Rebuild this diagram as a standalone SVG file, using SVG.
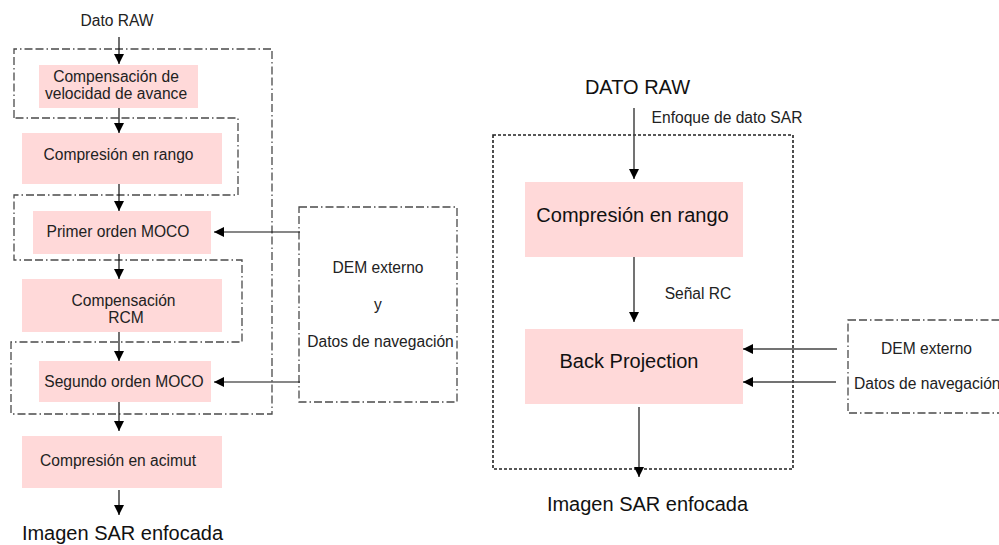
<svg xmlns="http://www.w3.org/2000/svg" width="999" height="545" viewBox="0 0 999 545">
  <defs>
    <marker id="arrow" markerUnits="userSpaceOnUse" markerWidth="10" markerHeight="10" viewBox="0 0 10 10" refX="10" refY="5" orient="auto">
      <path d="M0,0 L10,5 L0,10 z" fill="#000"/>
    </marker>
    <style>
      .block { fill: #ffd9d9; }
      .t { font-family: "Liberation Sans", Arial, sans-serif; font-size: 15.6px; fill: #222; text-anchor: middle; }
      .big { font-family: "Liberation Sans", Arial, sans-serif; font-size: 20px; fill: #111; text-anchor: middle; }
      .dashdot { fill: none; stroke: #4a4a4a; stroke-width: 1.3; stroke-dasharray: 8 3 8 3 1.5 3; }
      .dotted { fill: none; stroke: #222; stroke-width: 1.6; stroke-dasharray: 3 2; }
      .link { fill: none; stroke: #111; stroke-width: 1.2; marker-end: url(#arrow); }
      .link2 { fill: none; stroke: #444; stroke-width: 1.5; marker-end: url(#arrow); }
    </style>
  </defs>

  <rect width="999" height="545" fill="#fff"/>

  <!-- Left chain: frequency-domain processing -->
  <g id="frames-left">
    <path class="dashdot" d="M14,118 V49 H272 V414 H11 V342 H242 V260 H14 V195 H238 V118 H14"/>
  </g>

  <g id="input-left">
    <text class="t" x="117" y="26">Dato RAW</text>
  </g>

  <g id="vel-comp">
    <rect class="block" x="39" y="65" width="159" height="43"/>
    <text class="t" x="116" y="82">Compensación de</text>
    <text class="t" x="116" y="99">velocidad de avance</text>
  </g>

  <g id="range-comp-left">
    <rect class="block" x="22" y="133" width="200" height="51"/>
    <text class="t" x="118.5" y="160">Compresión en rango</text>
  </g>

  <g id="moco1">
    <rect class="block" x="33" y="211" width="178" height="43"/>
    <text class="t" x="118" y="237">Primer orden MOCO</text>
  </g>

  <g id="rcm">
    <rect class="block" x="22" y="279" width="200" height="53"/>
    <text class="t" x="123.5" y="306">Compensación</text>
    <text class="t" x="126" y="323">RCM</text>
  </g>

  <g id="moco2">
    <rect class="block" x="39" y="361" width="172" height="41"/>
    <text class="t" x="124" y="387">Segundo orden MOCO</text>
  </g>

  <g id="azimuth-comp">
    <rect class="block" x="22" y="436" width="200" height="52"/>
    <text class="t" x="118" y="466">Compresión en acimut</text>
  </g>

  <g id="output-left">
    <text class="big" x="122.5" y="540">Imagen SAR enfocada</text>
  </g>

  <g id="aux-left">
    <rect class="dashdot" x="299" y="207" width="158" height="195"/>
    <text class="t" x="378" y="273">DEM externo</text>
    <text class="t" x="378" y="310">y</text>
    <text class="t" x="380.5" y="347">Datos de navegación</text>
  </g>

  <!-- Right chain: back projection -->
  <g id="frame-right">
    <rect class="dotted" x="493" y="135" width="300" height="334"/>
    <text class="t" x="727" y="123">Enfoque de dato SAR</text>
  </g>

  <g id="input-right">
    <text class="big" x="637.5" y="94">DATO RAW</text>
  </g>

  <g id="range-comp-right">
    <rect class="block" x="525" y="182" width="218" height="75"/>
    <text class="big" x="632.5" y="222">Compresión en rango</text>
  </g>

  <g id="rc-label">
    <text class="t" x="698" y="299">Señal RC</text>
  </g>

  <g id="backprojection">
    <rect class="block" x="525" y="329" width="218" height="75"/>
    <text class="big" x="629" y="368">Back Projection</text>
  </g>

  <g id="output-right">
    <text class="big" x="647.5" y="511">Imagen SAR enfocada</text>
  </g>

  <g id="aux-right">
    <rect class="dashdot" x="848" y="320" width="170" height="93"/>
    <text class="t" x="926.5" y="354">DEM externo</text>
    <text class="t" x="854" y="389" style="text-anchor:start">Datos de navegación</text>
  </g>

  <g id="connectors">
    <line class="link" x1="119" y1="37" x2="119" y2="64"/>
    <line class="link" x1="119" y1="108" x2="119" y2="133"/>
    <line class="link" x1="119" y1="184" x2="119" y2="211"/>
    <line class="link" x1="119" y1="254" x2="119" y2="279"/>
    <line class="link" x1="119" y1="332" x2="119" y2="361"/>
    <line class="link" x1="119" y1="402" x2="119" y2="431"/>
    <line class="link" x1="119" y1="490" x2="119" y2="515"/>
    <line class="link" x1="300" y1="232" x2="214" y2="232"/>
    <line class="link" x1="300" y1="382" x2="214" y2="382"/>

    <line class="link2" x1="634" y1="108" x2="634" y2="179"/>
    <line class="link2" x1="634" y1="257" x2="634" y2="322"/>
    <line class="link2" x1="639" y1="407" x2="639" y2="477"/>
    <line class="link2" x1="837" y1="349" x2="743" y2="349"/>
    <line class="link2" x1="836" y1="382" x2="743" y2="382"/>
  </g>
</svg>
